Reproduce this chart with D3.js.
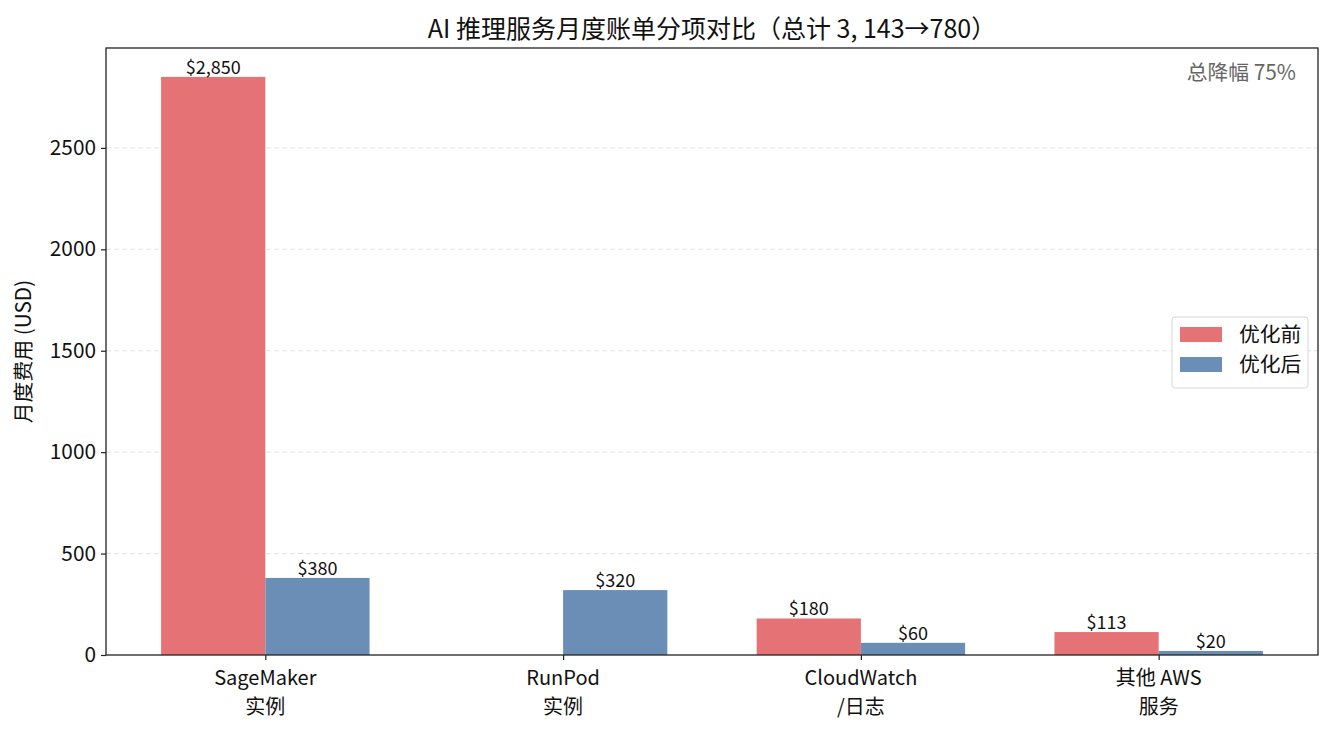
<!DOCTYPE html>
<html><head><meta charset="utf-8">
<script src="https://cdn.jsdelivr.net/npm/d3@7"></script>
<style>body{margin:0;background:#fff;} text{font-family:"Noto Sans CJK SC","Noto Sans",sans-serif;}</style>
</head><body><svg id="c" width="1334" height="732"></svg>
<script>
const categories = ["SageMaker\n实例", "RunPod\n实例", "CloudWatch\n/日志", "其他 AWS\n服务"];
const seriesNames = ["优化前", "优化后"];
const before = [2850, 0, 180, 113];
const after = [380, 320, 60, 20];
const yTicks = [0, 500, 1000, 1500, 2000, 2500];
const colors = ["#e57274", "#6a8eb5"];

const svg = d3.select("#c");
const L = 106, R = 1318, T = 48, B = 655;
const bw = 0.35;
const x = d3.scaleLinear().domain([-0.535, 3.535]).range([L, R]);
const y = d3.scaleLinear().domain([0, 2992.5]).range([B, T]);

// grid
svg.append("g").selectAll("line").data(yTicks.slice(1)).join("line")
  .attr("x1", L).attr("x2", R).attr("y1", d => y(d)).attr("y2", d => y(d))
  .attr("stroke", "#e3e3e3").attr("stroke-width", 1).attr("stroke-dasharray", "5,3");

const series = [before, after];
series.forEach((vals, si) => {
  const off = si === 0 ? -bw/2 : bw/2;
  const g = svg.append("g");
  g.selectAll("rect").data(vals).join("rect")
    .attr("x", (d, i) => x(i + off - bw/2))
    .attr("width", (d, i) => x(i + off + bw/2) - x(i + off - bw/2))
    .attr("y", d => y(d)).attr("height", d => y(0) - y(d))
    .attr("fill", colors[si]);
  g.selectAll("text").data(vals).join("text")
    .attr("x", (d, i) => x(i + off)).attr("y", d => y(d) - 3)
    .attr("text-anchor", "middle").attr("font-size", 18).attr("fill", "#111")
    .text(d => d > 0 ? "$" + d3.format(",")(d) : "");
});

// axes frame
svg.append("rect").attr("x", L).attr("y", T).attr("width", R - L).attr("height", B - T)
  .attr("fill", "none").attr("stroke", "#222").attr("stroke-width", 1.3);

// y axis
const ya = svg.append("g").attr("transform", `translate(${L},0)`)
  .call(d3.axisLeft(y).tickValues(yTicks).tickSize(5).tickPadding(5).tickFormat(d3.format("d")));
ya.select(".domain").remove();
ya.selectAll("line").attr("stroke", "#222").attr("stroke-width", 1.2);
ya.selectAll("text").attr("font-size", 20.8).attr("fill", "#111")
  .attr("font-family", "'Noto Sans CJK SC','Noto Sans',sans-serif");

// x axis
const xa = svg.append("g").attr("transform", `translate(0,${B})`)
  .call(d3.axisBottom(x).tickValues(d3.range(categories.length)).tickSize(5).tickFormat(""));
xa.select(".domain").remove();
xa.selectAll("line").attr("stroke", "#222").attr("stroke-width", 1.2);
categories.forEach((c, i) => {
  c.split("\n").forEach((ln, k) => {
    svg.append("text").attr("x", x(i)).attr("y", 685 + k * 29).attr("text-anchor", "middle")
      .attr("font-size", 20).attr("fill", "#111").text(ln);
  });
});

// title
svg.append("text").attr("x", (L + R) / 2).attr("y", 38).attr("text-anchor", "middle")
  .attr("font-size", 25).attr("fill", "#111").text("AI 推理服务月度账单分项对比（总计 3, 143→780）");

// y label
svg.append("text").attr("transform", `translate(31,${(T + B) / 2}) rotate(-90)`)
  .attr("text-anchor", "middle").attr("font-size", 20.8).attr("fill", "#111").text("月度费用 (USD)");

// annotation
svg.append("text").attr("x", 1296).attr("y", 80).attr("text-anchor", "end")
  .attr("font-size", 20.8).attr("fill", "#666").text("总降幅 75%");

// legend
const lg = svg.append("g");
lg.append("rect").attr("x", 1172).attr("y", 317).attr("width", 136).attr("height", 71).attr("rx", 3)
  .attr("fill", "#fff").attr("fill-opacity", 0.8).attr("stroke", "#d6d6d6");
seriesNames.forEach((n, i) => {
  lg.append("rect").attr("x", 1180).attr("y", 327 + i * 30).attr("width", 42).attr("height", 15).attr("fill", colors[i]);
  lg.append("text").attr("x", 1239).attr("y", 342 + i * 30).attr("font-size", 20.8).attr("fill", "#111").text(n);
});
</script></body></html>
